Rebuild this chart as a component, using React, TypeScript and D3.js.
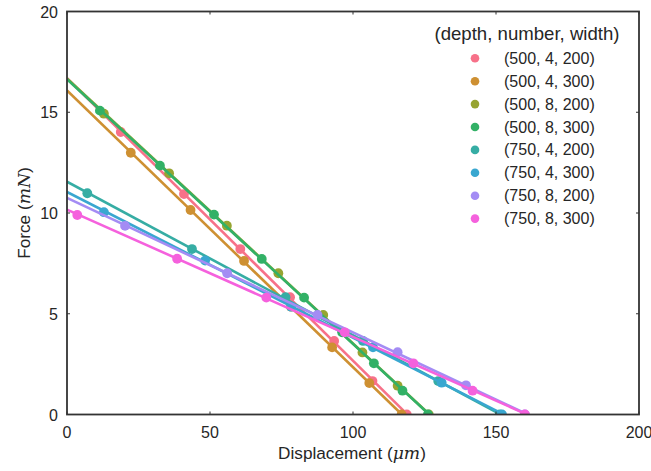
import React from "react";
import * as d3 from "d3";

const seriesLabels = [
  "(500, 4, 200)",
  "(500, 4, 300)",
  "(500, 8, 200)",
  "(500, 8, 300)",
  "(750, 4, 200)",
  "(750, 4, 300)",
  "(750, 8, 200)",
  "(750, 8, 300)",
];
const seriesColors = ["#f77189", "#ce9032", "#97a431", "#32b166", "#36ada4", "#39a7d0", "#a48cf4", "#f561dd"];

const disp500_4_200 = [18.8, 40.9, 60.6, 78.0, 93.4, 106.8, 118.8];
const force500_4_200 = [14.02, 10.94, 8.21, 5.82, 3.65, 1.66, 0];
const disp500_4_300 = [22.3, 43.2, 61.9, 78.3, 92.7, 105.7, 117.0];
const force500_4_300 = [12.99, 10.15, 7.62, 5.35, 3.33, 1.56, 0];
const disp500_8_200 = [12.9, 35.7, 55.9, 73.9, 89.6, 103.3, 115.6, 126.5];
const force500_8_200 = [14.93, 11.97, 9.37, 7.01, 4.94, 3.08, 1.43, 0];
const disp500_8_300 = [11.5, 32.5, 51.4, 68.1, 82.9, 96.2, 107.3, 117.3, 126.2];
const force500_8_300 = [15.08, 12.35, 9.92, 7.72, 5.8, 4.08, 2.54, 1.18, 0];
const disp750_4_200 = [7.1, 43.7, 76.4, 103.5, 129.8, 151.3];
const force750_4_200 = [10.98, 8.21, 5.82, 3.65, 1.66, 0];
const disp750_4_300 = [12.9, 48.3, 78.4, 107.0, 131.0, 152.1];
const force750_4_300 = [10.04, 7.64, 5.35, 3.33, 1.58, 0];
const disp750_8_200 = [20.3, 56.0, 87.6, 115.6, 139.5, 160.1];
const force750_8_200 = [9.36, 7.01, 4.94, 3.09, 1.45, 0];
const disp750_8_300 = [3.6, 38.5, 69.7, 97.1, 121.1, 141.8, 160.1];
const force750_8_300 = [9.9, 7.73, 5.8, 4.08, 2.54, 1.18, 0];

const displacements = [disp500_4_200, disp500_4_300, disp500_8_200, disp500_8_300, disp750_4_200, disp750_4_300, disp750_8_200, disp750_8_300];
const forces = [force500_4_200, force500_4_300, force500_8_200, force500_8_300, force750_4_200, force750_4_300, force750_8_200, force750_8_300];

const xTicks = [0, 50, 100, 150, 200];
const yTicks = [0, 5, 10, 15, 20];

const W = 651;
const H = 471;
const L = 67;
const R = 639;
const T = 11.5;
const B = 414.5;
const FONT = "'Liberation Sans', Arial, sans-serif";
const TXT = "#262626";

function fit(xs: number[], ys: number[]) {
  const mx = d3.mean(xs) as number;
  const my = d3.mean(ys) as number;
  let num = 0;
  let den = 0;
  xs.forEach((x, i) => {
    num += (x - mx) * (ys[i] - my);
    den += (x - mx) * (x - mx);
  });
  const slope = num / den;
  return { slope, intercept: my - slope * mx };
}

export default function App() {
  const x = d3.scaleLinear().domain([0, 200]).range([L, R]);
  const y = d3.scaleLinear().domain([0, 20]).range([B, T]);
  const line = d3
    .line<[number, number]>()
    .x((d) => x(d[0]))
    .y((d) => y(d[1]));

  return (
    <svg width={W} height={H} style={{ position: "absolute", left: 0, top: 0, background: "#fff" }} fontFamily={FONT}>
      <defs>
        <clipPath id="plot">
          <rect x={L} y={T} width={R - L} height={B - T} />
        </clipPath>
      </defs>
      <g clipPath="url(#plot)">
        {seriesLabels.map((lab, i) => {
          const xs = displacements[i];
          const ys = forces[i];
          const f = fit(xs, ys);
          const xmax = d3.max(xs) as number;
          const pts: [number, number][] = [
            [0, f.intercept],
            [xmax, f.intercept + f.slope * xmax],
          ];
          return (
            <g key={lab}>
              <path d={line(pts) || ""} stroke={seriesColors[i]} strokeWidth={2.6} fill="none" />
              {xs.map((v, j) => (
                <circle key={j} cx={x(v)} cy={y(ys[j])} r={4.9} fill={seriesColors[i]} />
              ))}
            </g>
          );
        })}
      </g>
      {xTicks.map((t) => (
        <g key={"xt" + t}>
          <line x1={x(t)} x2={x(t)} y1={B} y2={B - 3} stroke="#333" strokeWidth={1} />
          <line x1={x(t)} x2={x(t)} y1={T} y2={T + 3} stroke="#333" strokeWidth={1} />
          <text x={x(t)} y={438} textAnchor="middle" fontSize={16} fill={TXT}>
            {t}
          </text>
        </g>
      ))}
      {yTicks.map((t) => (
        <g key={"yt" + t}>
          <line x1={L} x2={L + 3} y1={y(t)} y2={y(t)} stroke="#333" strokeWidth={1} />
          <line x1={R} x2={R - 3} y1={y(t)} y2={y(t)} stroke="#333" strokeWidth={1} />
          <text x={58} y={y(t) + 6} textAnchor="end" fontSize={16} fill={TXT}>
            {t}
          </text>
        </g>
      ))}
      <rect x={L} y={T} width={R - L} height={B - T} fill="none" stroke="#333" strokeWidth={1.8} />
      <text x={(L + R) / 2 - 1} y={459} textAnchor="middle" fontSize={17.2} fill={TXT}>
        Displacement (
        <tspan fontFamily="'DejaVu Serif', serif" fontStyle="italic">
          μm
        </tspan>
        )
      </text>
      <text transform={`translate(30, ${(T + B) / 2}) rotate(-90)`} textAnchor="middle" fontSize={17.2} fill={TXT}>
        Force (
        <tspan fontFamily="'DejaVu Serif', serif" fontStyle="italic">
          mN
        </tspan>
        )
      </text>
      <text x={527} y={40} textAnchor="middle" fontSize={18.6} fill={TXT}>
        (depth, number, width)
      </text>
      {seriesLabels.map((lab, i) => (
        <g key={"lg" + lab}>
          <circle cx={475} cy={58.3 + i * 22.9} r={4.3} fill={seriesColors[i]} />
          <text x={504} y={58.3 + i * 22.9 + 5.5} fontSize={16} fill={TXT}>
            {lab}
          </text>
        </g>
      ))}
    </svg>
  );
}
